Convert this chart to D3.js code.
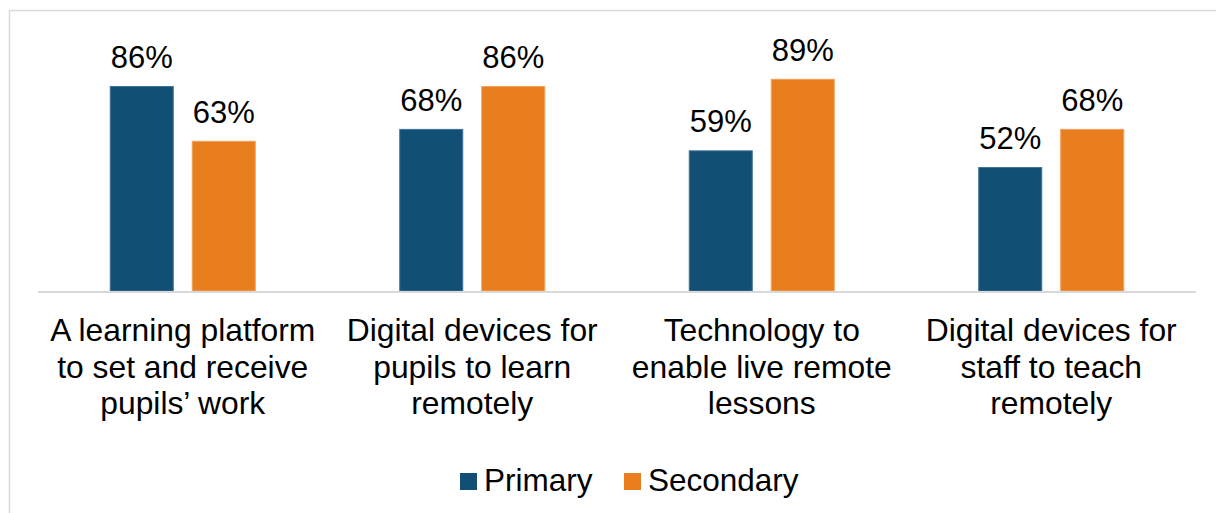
<!DOCTYPE html>
<html>
<head>
<meta charset="utf-8">
<script src="https://cdn.jsdelivr.net/npm/d3@7"></script>
<style>
  html, body { margin: 0; padding: 0; background: #fff; }
  svg { display: block; font-family: "Liberation Sans", Arial, sans-serif; }
</style>
</head>
<body>
<svg id="chart" width="1216" height="513"></svg>
<script>
// Categories (each split into the lines shown under the axis)
const categories = [
  "A learning platform to set and receive pupils’ work",
  "Digital devices for pupils to learn remotely",
  "Technology to enable live remote lessons",
  "Digital devices for staff to teach remotely"
];
const categoryLines = [
  ["A learning platform", "to set and receive", "pupils’ work"],
  ["Digital devices for", "pupils to learn", "remotely"],
  ["Technology to", "enable live remote", "lessons"],
  ["Digital devices for", "staff to teach", "remotely"]
];
const seriesNames = ["Primary", "Secondary"];
const primaryValues = [86, 68, 59, 52];
const secondaryValues = [63, 86, 89, 68];
const seriesColors = ["#124f74", "#e97e1f"];
const seriesStrokes = ["#3f7398", "#f1a05a"];

const svg = d3.select("#chart");

// Outer frame
svg.append("rect")
  .attr("x", 9.5).attr("y", 10.5)
  .attr("width", 1230).attr("height", 530)
  .attr("fill", "none").attr("stroke", "#d9d9d9").attr("stroke-width", 1.5);

const plot = { left: 38, right: 1196, bottom: 291, top: 52.6 };

const x0 = d3.scaleBand().domain(categories).range([plot.left, plot.right]).padding(0);
const pairWidth = 146;
const x1 = d3.scaleBand().domain(seriesNames).range([0, pairWidth]).paddingInner(0.2195).paddingOuter(0);
const y = d3.scaleLinear().domain([0, 100]).range([plot.bottom, plot.top]);

const rows = categories.map((c, i) => ({
  cat: c,
  lines: categoryLines[i],
  vals: [primaryValues[i], secondaryValues[i]]
}));

const groups = svg.selectAll("g.grp").data(rows).enter().append("g")
  .attr("class", "grp")
  .attr("transform", d => `translate(${x0(d.cat) + (x0.bandwidth() - pairWidth) / 2},0)`);

groups.selectAll("rect").data(d => d.vals.map((v, j) => ({ v, s: seriesNames[j], j })))
  .enter().append("rect")
  .attr("x", d => x1(d.s) + 0.5)
  .attr("y", d => y(d.v) + 0.5)
  .attr("width", x1.bandwidth() - 1)
  .attr("height", d => y(0) - y(d.v) - 0.5)
  .attr("fill", d => seriesColors[d.j])
  .attr("stroke", d => seriesStrokes[d.j])
  .attr("stroke-width", 1);

// Value labels
groups.selectAll("text.val").data(d => d.vals.map((v, j) => ({ v, s: seriesNames[j], j })))
  .enter().append("text")
  .attr("class", "val")
  .attr("x", d => x1(d.s) + x1.bandwidth() / 2)
  .attr("y", d => y(d.v) - 18)
  .attr("text-anchor", "middle")
  .attr("font-size", 31)
  .attr("fill", "#000")
  .text(d => d.v + "%");

// Baseline
svg.append("line")
  .attr("x1", plot.left).attr("x2", plot.right)
  .attr("y1", y(0) + 1).attr("y2", y(0) + 1)
  .attr("stroke", "#d9d9d9").attr("stroke-width", 2);

// Category axis labels
const xAxis = svg.append("g").attr("class", "xaxis");
rows.forEach(r => {
  const t = xAxis.append("text")
    .attr("text-anchor", "middle")
    .attr("font-size", 31.8)
    .attr("fill", "#000");
  r.lines.forEach((ln, k) => {
    t.append("tspan")
      .attr("x", x0(r.cat) + x0.bandwidth() / 2)
      .attr("y", 341 + k * 36.5)
      .text(ln);
  });
});

// Legend
const legend = svg.append("g").attr("class", "legend");
const legendItems = [
  { name: seriesNames[0], color: seriesColors[0], x: 460 },
  { name: seriesNames[1], color: seriesColors[1], x: 624 }
];
legendItems.forEach(it => {
  legend.append("rect")
    .attr("x", it.x).attr("y", 473)
    .attr("width", 17).attr("height", 17)
    .attr("fill", it.color);
  legend.append("text")
    .attr("x", it.x + 24).attr("y", 491)
    .attr("font-size", 31.5)
    .attr("fill", "#000")
    .text(it.name);
});
</script>
</body>
</html>
